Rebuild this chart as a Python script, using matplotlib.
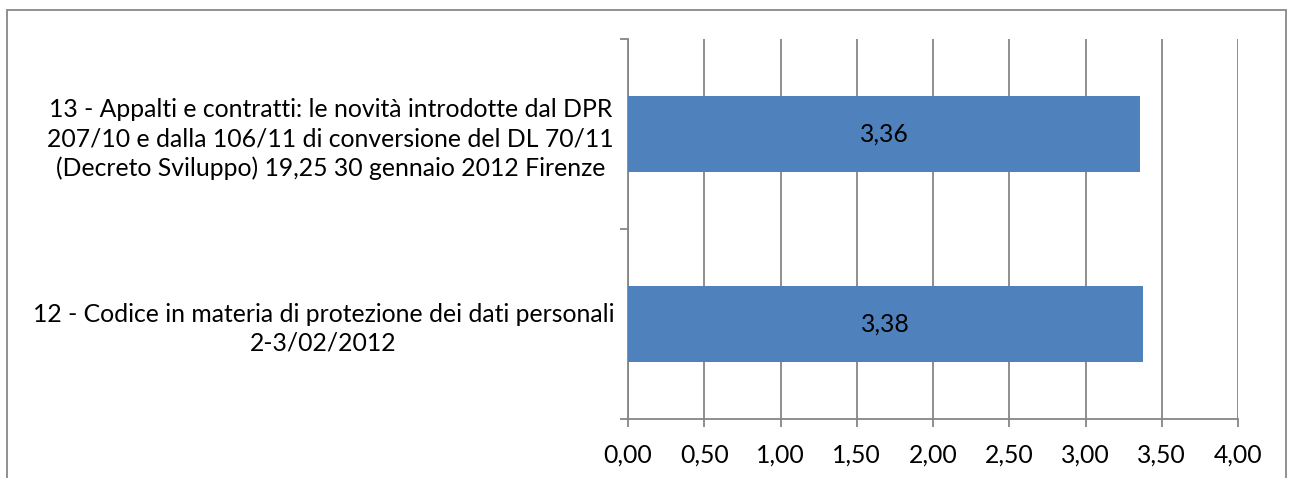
import matplotlib
matplotlib.use("Agg")
import matplotlib.pyplot as plt
from matplotlib.patches import Rectangle

categories = [
    "12 - Codice in materia di protezione dei dati personali\n2-3/02/2012",
    "13 - Appalti e contratti: le novità introdotte dal DPR\n207/10 e dalla 106/11 di conversione del DL 70/11\n(Decreto Sviluppo) 19,25 30 gennaio 2012 Firenze",
]
values = [3.38, 3.36]
value_labels = ["3,38", "3,36"]
xticks = [0.0, 0.5, 1.0, 1.5, 2.0, 2.5, 3.0, 3.5, 4.0]
xtick_labels = ["0,00", "0,50", "1,00", "1,50", "2,00", "2,50", "3,00", "3,50", "4,00"]

plt.rcParams['font.family'] = ['Lato', 'DejaVu Sans']
FS = 17.8

fig = plt.figure(figsize=(12.93, 4.78), dpi=100)
W, H = 1293, 478
ax = fig.add_axes([628 / W, (H - 419) / H, (1238 - 628) / W, (419 - 39) / H])

grid_c = '#868686'
pos = list(range(len(categories)))
ax.barh(pos, values, height=0.4, color='#4F81BD', zorder=3)
for p, v, lab in zip(pos, values, value_labels):
    ax.text(v / 2, p, lab, ha='center', va='center', fontsize=FS, color='black', zorder=4)

ax.set_xlim(0, 4)
ax.set_ylim(-0.5, 1.5)
ax.set_xticks(xticks)
ax.set_xticklabels(xtick_labels, fontsize=FS)
ax.xaxis.grid(True, color=grid_c, linewidth=1.3, zorder=0)
ax.set_axisbelow(True)

ax.set_yticks([-0.5, 0.5, 1.5])
ax.set_yticklabels([])
ax.set_yticks(pos, minor=True)
ax.set_yticklabels(categories, minor=True, fontsize=FS, multialignment='center', linespacing=1.3)
ax.tick_params(axis='y', which='minor', length=0, pad=10)
ax.tick_params(axis='y', which='major', length=6, width=1.3, color=grid_c, direction='out')
ax.tick_params(axis='x', length=6, width=1.3, color=grid_c, direction='out', pad=12)

for s in ['top', 'right']:
    ax.spines[s].set_visible(False)
for s in ['left', 'bottom']:
    ax.spines[s].set_color(grid_c)
    ax.spines[s].set_linewidth(1.3)

border = Rectangle((7 / W, -0.05), (1286 - 7) / W, (H - 10) / H + 0.05,
                   transform=fig.transFigure, fill=False, edgecolor='#888888',
                   linewidth=1.3, clip_on=False)
fig.patches.append(border)

fig.savefig("out.png", dpi=100, facecolor='white')
